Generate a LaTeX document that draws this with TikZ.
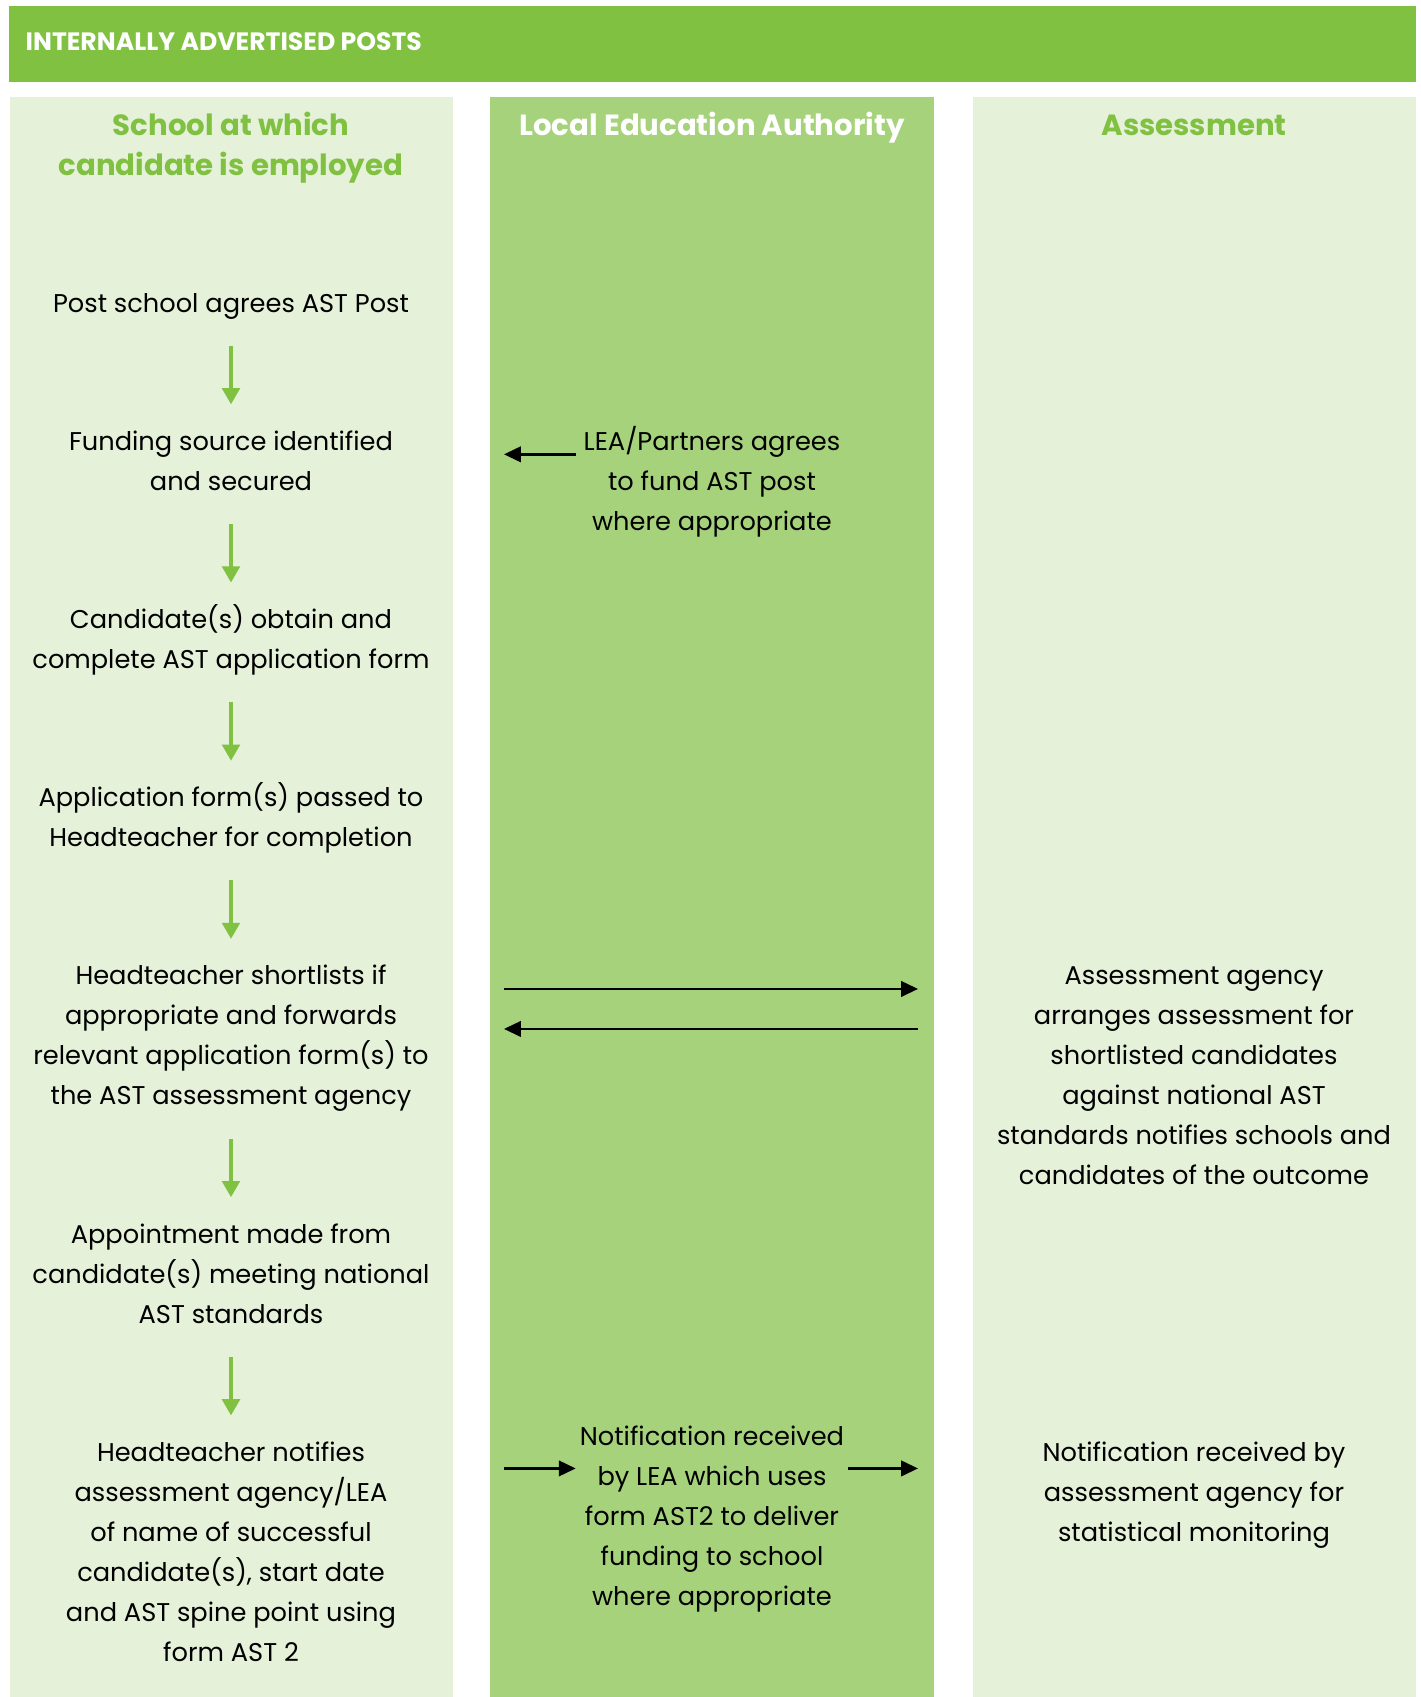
\documentclass[tikz,border=0pt]{standalone}
\usepackage{fontspec}
\setmainfont{Poppins}
\usetikzlibrary{positioning,arrows.meta,calc}
\definecolor{barleaf}{RGB}{128,193,65}
\definecolor{paleleaf}{RGB}{229,241,217}
\definecolor{midleaf}{RGB}{166,210,123}
\newcommand\flowstrut{\rule[-4pt]{0pt}{14pt}}
\tikzset{
  lane/.style={fill=paleleaf},
  keylane/.style={fill=midleaf},
  flowtext/.style={align=center,inner sep=0pt,font=\fontsize{7.3}{11.38}\selectfont,execute at end node=\flowstrut},
  lanetitle/.style={align=center,inner sep=0pt,font=\bfseries\fontsize{8.3}{11.38}\selectfont,text=barleaf},
  downflow/.style={-{Triangle[length=4.6pt,width=5pt]},draw=barleaf,line width=1pt,shorten <=5.4pt,shorten >=2.85pt},
  sideflow/.style={-{Triangle[length=4.8pt,width=4.4pt]},line width=0.7pt}
}
\begin{document}
\begin{tikzpicture}[x=0.01cm,y=-0.01cm,node distance=0.875cm]
  \useasboundingbox (0,0) rectangle (1420,1697);
  \fill[barleaf] (9,6) rectangle (1416,82);
  \fill[lane] (10,97) rectangle (453,1697);
  \fill[keylane] (490,97) rectangle (934,1697);
  \fill[lane] (973,97) rectangle (1416,1697);
  \coordinate (midaxis) at (712,0);
  \coordinate (rightaxis) at (1194,0);
  \coordinate (lanein) at (504,0);
  \coordinate (laneout) at (918,0);

  \node[anchor=west,inner sep=0pt,text=white,font=\bfseries\fontsize{7.15}{10}\selectfont] (banner) at (25,42) {INTERNALLY ADVERTISED POSTS};
  \node[lanetitle,anchor=north] (schooltitle) at (231,100) {\flowstrut School at which\\candidate is employed};
  \node[lanetitle,anchor=north,text=white] (leatitle) at (712,100) {\flowstrut Local Education Authority};
  \node[lanetitle,anchor=north] (assesstitle) at (1194,100) {\flowstrut Assessment};

  \node[flowtext,anchor=base] (post) at (231,312) {\flowstrut Post school agrees AST Post};
  \node[flowtext,below=of post] (fund) {\flowstrut Funding source identified\\and secured};
  \node[flowtext,below=of fund] (apply) {\flowstrut Candidate(s) obtain and\\complete AST application form};
  \node[flowtext,below=of apply] (pass) {\flowstrut Application form(s) passed to\\Headteacher for completion};
  \node[flowtext,below=of pass] (shortlist) {\flowstrut Headteacher shortlists if\\appropriate and forwards\\relevant application form(s) to\\the AST assessment agency};
  \node[flowtext,below=of shortlist] (appoint) {\flowstrut Appointment made from\\candidate(s) meeting national\\AST standards};
  \node[flowtext,below=of appoint] (notify) {\flowstrut Headteacher notifies\\assessment agency/LEA\\of name of successful\\candidate(s), start date\\and AST spine point using\\form AST 2};

  \node[flowtext,anchor=north] (leafund) at (fund.north -| midaxis) {\flowstrut LEA/Partners agrees\\to fund AST post\\where appropriate};
  \node[flowtext,anchor=north] (agency) at (shortlist.north -| rightaxis) {\flowstrut Assessment agency\\arranges assessment for\\shortlisted candidates\\against national AST\\standards notifies schools and\\candidates of the outcome};
  \node[flowtext,anchor=north] (leanote) at ($(notify.north -| midaxis)+(0,-16)$) {\flowstrut Notification received\\by LEA which uses\\form AST2 to deliver\\funding to school\\where appropriate};
  \node[flowtext,anchor=north] (monitor) at (notify.north -| rightaxis) {\flowstrut Notification received by\\assessment agency for\\statistical monitoring};

  \coordinate (fundrow) at ($(fund.north)+(0,40)$);
  \coordinate (sendrow) at ($(shortlist.north)+(0,40)$);
  \coordinate (backrow) at ($(shortlist.north)+(0,80)$);
  \coordinate (noterow) at ($(notify.north)+(0,43)$);

  \draw[downflow] (post.south) -- (fund.north);
  \draw[downflow] (fund.south) -- (apply.north);
  \draw[downflow] (apply.south) -- (pass.north);
  \draw[downflow] (pass.south) -- (shortlist.north);
  \draw[downflow] (shortlist.south) -- (appoint.north);
  \draw[downflow] (appoint.south) -- (notify.north);

  \draw[sideflow,shorten <=2pt] (fundrow -| leafund.west) -- (fundrow -| lanein);
  \draw[sideflow] (sendrow -| lanein) -- (sendrow -| laneout);
  \draw[sideflow] (backrow -| laneout) -- (backrow -| lanein);
  \draw[sideflow,shorten >=1pt] (noterow -| lanein) -- (noterow -| leanote.west);
  \draw[sideflow,shorten <=1pt] (noterow -| leanote.east) -- (noterow -| laneout);
\end{tikzpicture}
\end{document}
